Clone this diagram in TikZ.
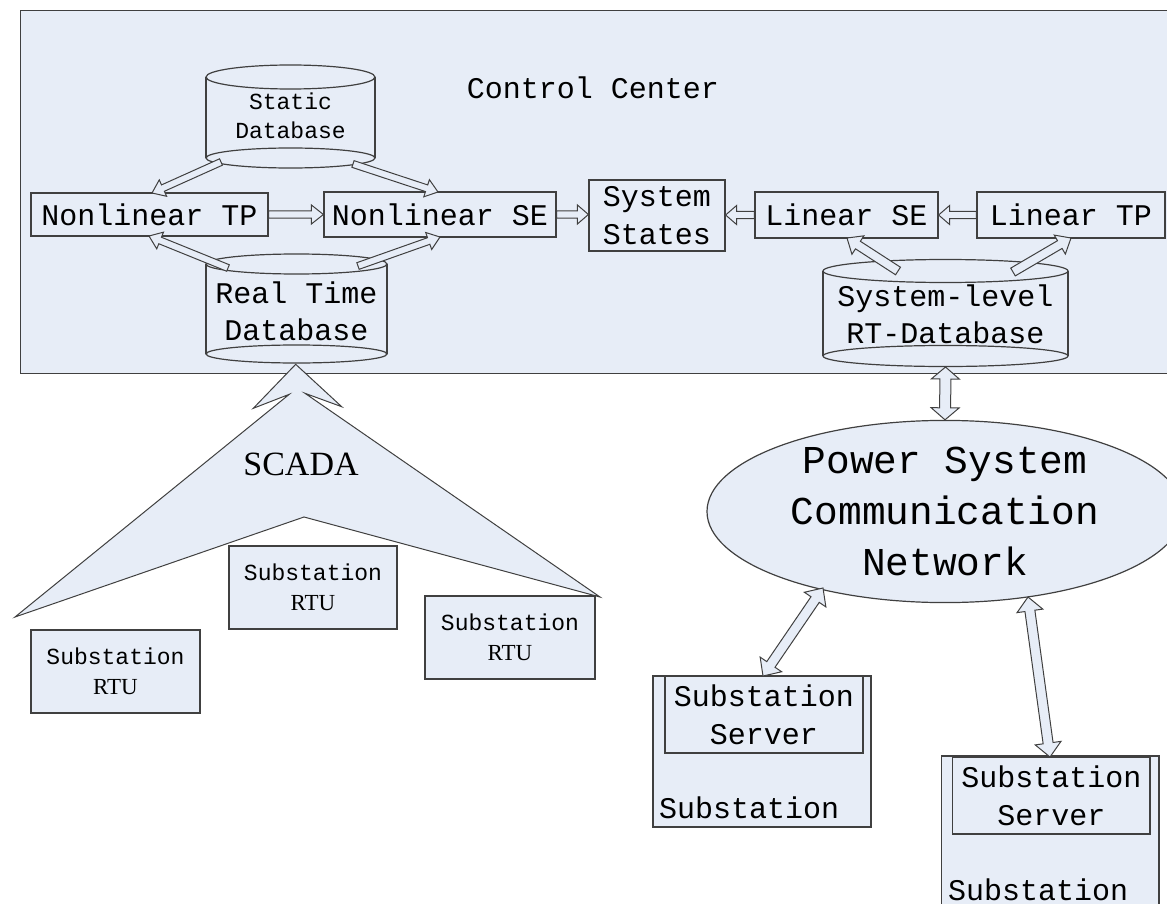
\documentclass[tikz,border=0pt]{standalone}
\usepackage{fontspec}
\setmainfont{Liberation Serif}
\newfontfamily\monofont{Liberation Mono}
\usetikzlibrary{calc,shapes.geometric}

\definecolor{fillc}{RGB}{231,237,247}
\definecolor{linec}{RGB}{64,64,64}

\tikzset{
  panel/.style={draw=linec, fill=fillc, line width=1.3pt, inner sep=0pt},
  box/.style={draw=linec, fill=fillc, line width=1.2pt, inner sep=0pt, align=center,
    font=\monofont\fontsize{30}{38}\selectfont},
  smallbox/.style={box, font=\monofont\fontsize{23}{30}\selectfont},
  dbline/.style={draw=linec, fill=fillc, line width=1.2pt},
  dbtext/.style={inner sep=0pt, align=center, font=\monofont\fontsize{30}{37}\selectfont},
  dbsmall/.style={inner sep=0pt, align=center, font=\monofont\fontsize{23}{29}\selectfont},
  title/.style={inner sep=0pt, font=\monofont\fontsize{30}{36}\selectfont},
  lbl/.style={inner sep=0pt, font=\monofont\fontsize{30}{36}\selectfont},
  netnode/.style={ellipse, draw=linec, fill=fillc, line width=1.2pt, inner sep=0pt,
    align=center, font=\monofont\fontsize{39.5}{51}\selectfont},
  scadashape/.style={draw=linec, fill=fillc, line width=1pt, line join=miter},
  scadatext/.style={inner sep=0pt, font=\fontsize{34}{40}\selectfont},
  arrowline/.style={draw=linec, fill=fillc, line width=1pt, line join=miter},
}

% database cylinder: centre x, half width, top centre y, bottom centre y, top ry, bottom ry
\newcommand\dbcyl[6]{%
  \fill[fillc] (#1-#2,#3) rectangle (#1+#2,#4);
  \path[dbline] (#1,#4) ellipse [x radius=#2, y radius=#6];
  \draw[draw=linec, line width=1.2pt] (#1-#2,#3) -- (#1-#2,#4) (#1+#2,#3) -- (#1+#2,#4);
  \path[dbline] (#1,#3) ellipse [x radius=#2, y radius=#5];
}

% hollow block arrow: tail, tip, half shaft width, half head width, head length
\newcommand\blockarrow[5]{%
  \coordinate (bah) at ($(#2)!#5pt!(#1)$);
  \path[arrowline] ($(#1)!#3pt!90:(#2)$) -- ($(bah)!#3pt!-90:(#1)$)
    -- ($(bah)!#4pt!-90:(#1)$) -- (#2) -- ($(bah)!#4pt!90:(#1)$)
    -- ($(bah)!#3pt!90:(#1)$) -- ($(#1)!#3pt!-90:(#2)$) -- cycle;
}

% hollow block arrow with a head at both ends
\newcommand\dblockarrow[5]{%
  \coordinate (bha) at ($(#1)!#5pt!(#2)$);
  \coordinate (bhb) at ($(#2)!#5pt!(#1)$);
  \path[arrowline] (#1) -- ($(bha)!#4pt!90:(#2)$) -- ($(bha)!#3pt!90:(#2)$)
    -- ($(bhb)!#3pt!-90:(#1)$) -- ($(bhb)!#4pt!-90:(#1)$) -- (#2)
    -- ($(bhb)!#4pt!90:(#1)$) -- ($(bhb)!#3pt!90:(#1)$)
    -- ($(bha)!#3pt!-90:(#2)$) -- ($(bha)!#4pt!-90:(#2)$) -- cycle;
}

\begin{document}
\begin{tikzpicture}[x=1pt,y=-1pt]
\useasboundingbox (0,0) rectangle (1167,904);

% ---------- control centre ----------
\node[panel, minimum width=1200, minimum height=363, anchor=north west] (cc) at (20,10) {};
\node[title] (cctitle) at (593,88) {Control Center};

% databases
\dbcyl{290.5}{84.5}{77}{158}{12}{10}
\node[dbsmall] (sdb) at (290.5,116) {Static\\Database};
\dbcyl{296.5}{90.5}{264}{354}{10}{9}
\node[dbtext] (rtdb) at (296.5,311) {Real Time\\Database};
\dbcyl{945.5}{122.5}{271}{356}{11.5}{10.5}
\node[dbtext] (sldb) at (945.5,314) {System-level\\RT-Database};

% processing blocks
\node[box, minimum width=237, minimum height=43] (ntp) at (149.5,214.5) {Nonlinear TP};
\node[box, minimum width=232, minimum height=45] (nse) at (440,214.5) {Nonlinear SE};
\node[box, minimum width=136, minimum height=71] (sst) at (657,215.5) {System\\States};
\node[box, minimum width=183, minimum height=46] (lse) at (846.5,215) {Linear SE};
\node[box, minimum width=188, minimum height=46] (ltp) at (1071,215) {Linear TP};

% data flows inside the control centre
\coordinate (a1t) at (221,162);  \coordinate (a1h) at (152,193);
\coordinate (a2t) at (353,164);  \coordinate (a2h) at (438,192);
\coordinate (a3t) at (228,268);  \coordinate (a3h) at (149,236);
\coordinate (a4t) at (358,266);  \coordinate (a4h) at (440,237);
\coordinate (a6h) at (sst.west|-nse.east);
\coordinate (a7h) at (sst.east|-lse.west);
\coordinate (a9t) at (898,271);  \coordinate (a9h) at (847,238);
\coordinate (a10t) at (1013,272); \coordinate (a10h) at (1071,238);

\blockarrow{a1t}{a1h}{3.5}{9}{12}
\blockarrow{a2t}{a2h}{3.5}{9}{12}
\blockarrow{a3t}{a3h}{3.5}{9}{12}
\blockarrow{a4t}{a4h}{3.5}{9}{12}
\blockarrow{ntp.east}{nse.west}{3.7}{9.5}{12}
\blockarrow{nse.east}{a6h}{3.7}{9.5}{11}
\blockarrow{lse.west}{a7h}{3.7}{9.5}{11}
\blockarrow{ltp.west}{lse.east}{3.7}{9.5}{11}
\blockarrow{a9t}{a9h}{4.5}{11}{13}
\blockarrow{a10t}{a10h}{4.5}{11}{13}

% ---------- SCADA ----------
\path[scadashape] (295.7,364.3) -- (253.3,408.3) -- (289.3,394.3) -- (15,617)
  -- (304,517) -- (600,597) -- (305,393.3) -- (341.7,406.7) -- cycle;
\node[scadatext] (scada) at (301,464) {SCADA};

\node[smallbox, minimum width=169, minimum height=83] (rtu1) at (115.5,671.5) {Substation\\{\rmfamily RTU}};
\node[smallbox, minimum width=168, minimum height=83] (rtu2) at (313,587.5) {Substation\\{\rmfamily RTU}};
\node[smallbox, minimum width=170, minimum height=83] (rtu3) at (510,637.5) {Substation\\{\rmfamily RTU}};

% ---------- communication network ----------
\node[netnode, minimum width=476, minimum height=177] (net) at (945,511.5)
  {Power System\\Communication\\Network};

\node[box, minimum width=218, minimum height=151] (sub1) at (762,751.5) {};
\node[box, minimum width=198, minimum height=77] (srv1) at (764,714.5) {Substation\\Server};
\node[lbl, anchor=west] (sub1lbl) at (659,808) {Substation};

\node[box, minimum width=217.5, minimum height=204] (sub2) at (1050.25,858) {};
\node[box, minimum width=197.4, minimum height=77] (srv2) at (1051.3,795.5) {Substation\\Server};
\node[lbl, anchor=west] (sub2lbl) at (948,890) {Substation};

\coordinate (d1a) at (945.5,367);
\coordinate (d2a) at (823,588);  \coordinate (d2b) at (763,676);
\coordinate (d3a) at (1028,597); \coordinate (d3b) at (1050,757);

\dblockarrow{d1a}{net.north}{5.5}{14}{12}
\dblockarrow{d2a}{d2b}{5}{13}{14}
\dblockarrow{d3a}{d3b}{5}{13}{14}

\end{tikzpicture}
\end{document}
